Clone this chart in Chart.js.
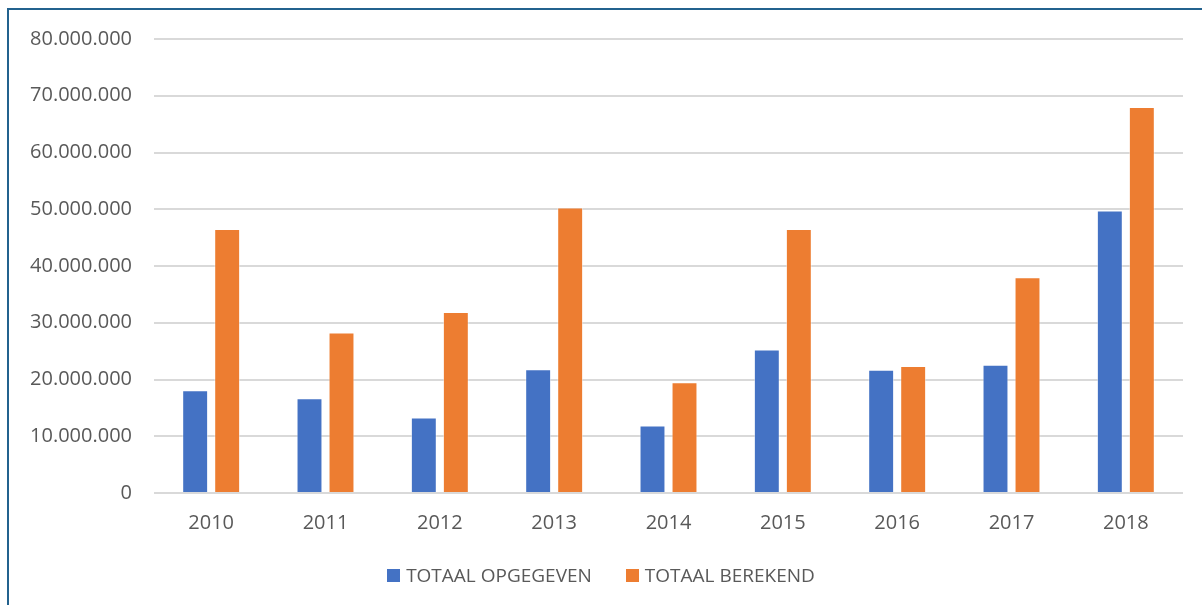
<!DOCTYPE html>
<html>
<head>
<meta charset="utf-8">
<script src="https://cdn.jsdelivr.net/npm/chart.js@4/dist/chart.umd.min.js"></script>
<style>
  html, body { margin: 0; padding: 0; background: #fff; }
  #wrap { position: relative; width: 1202px; height: 605px; overflow: hidden; }
  #frame {
    position: absolute; left: 7px; top: 8px; right: -10px; bottom: -10px;
    border-left: 2px solid #23628e; border-top: 2px solid #23628e;
  }
  #chartBox { position: absolute; left: 0; top: 0; width: 1202px; height: 605px; }
  #legend {
    position: absolute; left: 0; top: 560px; width: 1202px; height: 30px;
    display: flex; justify-content: center; align-items: center; gap: 34px;
    font-family: "Open Sans", sans-serif; font-size: 19px; color: #595959;
  }
  .item { display: flex; align-items: center; }
  .swatch { width: 13px; height: 13px; margin-right: 6px; }
</style>
</head>
<body>
<div id="wrap">
  <div id="frame"></div>
  <div id="chartBox"><canvas id="totalsChart"></canvas></div>
  <div id="legend"></div>
</div>
<script>
// Data
const years = ["2010", "2011", "2012", "2013", "2014", "2015", "2016", "2017", "2018"];
const opgegeven = [18100000, 16700000, 13300000, 21800000, 11900000, 25300000, 21700000, 22600000, 49800000];
const berekend = [46500000, 28300000, 31900000, 50300000, 19500000, 46500000, 22400000, 38000000, 68000000];
const seriesNames = ["TOTAAL OPGEGEVEN", "TOTAAL BEREKEND"];
const seriesColors = ["#4472C4", "#ED7D31"];

const yMax = 80000000;
const yStep = 10000000;

function formatDots(value) {
  return String(value).replace(/\B(?=(\d{3})+(?!\d))/g, ".");
}

const ctx = document.getElementById("totalsChart");
const chart = new Chart(ctx, {
  type: "bar",
  data: {
    labels: years,
    datasets: [
      {
        label: seriesNames[0],
        data: opgegeven,
        backgroundColor: seriesColors[0],
        borderColor: "rgba(255,255,255,0.45)",
        borderWidth: 1,
        categoryPercentage: 0.56,
        barPercentage: 0.81,
      },
      {
        label: seriesNames[1],
        data: berekend,
        backgroundColor: seriesColors[1],
        borderColor: "rgba(255,255,255,0.45)",
        borderWidth: 1,
        categoryPercentage: 0.56,
        barPercentage: 0.81,
      },
    ],
  },
  options: {
    responsive: true,
    maintainAspectRatio: false,
    animation: false,
    layout: {
      padding: { top: 39, right: 19, left: 0, bottom: 0 },
    },
    plugins: {
      legend: { display: false },
      tooltip: { enabled: false },
    },
    scales: {
      x: {
        grid: { display: false, drawTicks: false },
        border: { display: false },
        ticks: {
          padding: 18,
          color: "#595959",
          font: { family: "Open Sans", size: 20 },
        },
        afterFit: (scale) => {
          scale.height = 112;
        },
      },
      y: {
        min: 0,
        max: yMax,
        grid: { color: "#d9d9d9", lineWidth: 2, drawTicks: false },
        border: { display: false },
        ticks: {
          stepSize: yStep,
          padding: 22,
          color: "#595959",
          font: { family: "Open Sans", size: 20 },
          callback: (value) => formatDots(value),
        },
        afterFit: (scale) => {
          scale.width = 154;
        },
      },
    },
  },
});

// Legend built from the chart's datasets
const legendEl = document.getElementById("legend");
chart.data.datasets.forEach((ds) => {
  const item = document.createElement("div");
  item.className = "item";
  const sw = document.createElement("span");
  sw.className = "swatch";
  sw.style.background = ds.backgroundColor;
  const txt = document.createElement("span");
  txt.textContent = ds.label;
  item.appendChild(sw);
  item.appendChild(txt);
  legendEl.appendChild(item);
});
</script>
</body>
</html>
